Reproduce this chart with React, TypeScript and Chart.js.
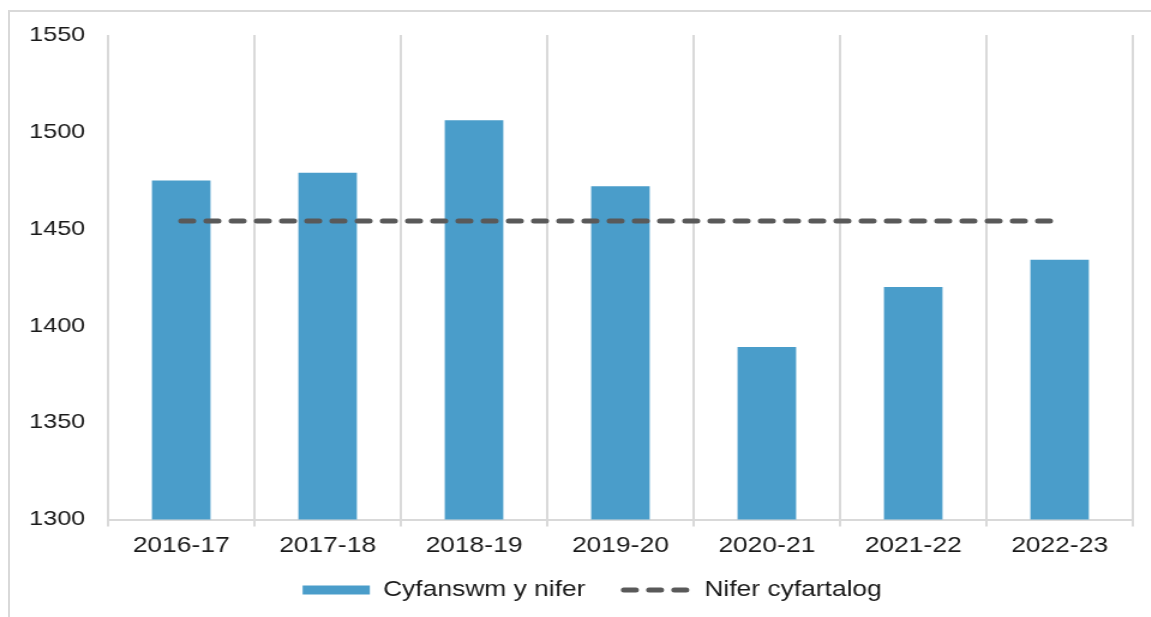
import React, { useEffect, useRef } from "react";
import { Chart, registerables } from "chart.js";

Chart.register(...registerables);

const categories = ["2016-17", "2017-18", "2018-19", "2019-20", "2020-21", "2021-22", "2022-23"];
const totalValues = [1475, 1479, 1506, 1472, 1389, 1420, 1434];
const averageValues = [1454, 1454, 1454, 1454, 1454, 1454, 1454];
const seriesLabels = ["Cyfanswm y nifer", "Nifer cyfartalog"];
const yMin = 1300;
const yMax = 1550;
const yStep = 50;

const BAR_COLOR = "#4A9DCA";
const LINE_COLOR = "#595959";
const GRID_COLOR = "#d9d9d9";
const TEXT_COLOR = "#1a1a1a";
const FONT = "'Liberation Sans', Arial, sans-serif";

const STRETCH = 1.2;
const CANVAS_W = 959;
const CANVAS_H = 617;
const LEGEND_CENTER_X = 493.5;
const LEGEND_TEXT_Y = 590;

const legendPlacer = {
  id: "legendPlacer",
  afterLayout(chart: any) {
    const lg = chart.legend;
    if (!lg) return;
    const w = lg.right - lg.left;
    const h = lg.bottom - lg.top;
    lg.left = LEGEND_CENTER_X - w / 2;
    lg.right = LEGEND_CENTER_X + w / 2;
    const pad = lg.options.labels.padding;
    const fs = lg.options.labels.font.size;
    lg.top = LEGEND_TEXT_Y - pad - fs / 2;
    lg.bottom = lg.top + h;
  },
};

export default function App() {
  const canvasRef = useRef<HTMLCanvasElement | null>(null);

  useEffect(() => {
    const canvas = canvasRef.current;
    if (!canvas) return;
    const chart = new Chart(canvas, {
      type: "bar",
      data: {
        labels: categories,
        datasets: [
          {
            type: "line",
            label: seriesLabels[1],
            data: averageValues,
            borderColor: LINE_COLOR,
            backgroundColor: LINE_COLOR,
            borderWidth: 5,
            borderDash: [10, 11],
            borderCapStyle: "round",
            pointRadius: 0,
            pointHoverRadius: 0,
            fill: false,
            order: 0,
          } as any,
          {
            type: "bar",
            label: seriesLabels[0],
            data: totalValues,
            backgroundColor: BAR_COLOR,
            borderWidth: 0,
            barPercentage: 0.4,
            categoryPercentage: 1,
            order: 1,
          },
        ],
      },
      options: {
        responsive: false,
        animation: false,
        devicePixelRatio: 1,
        layout: { padding: { left: 0, right: 15, top: 35, bottom: -12 } },
        plugins: {
          tooltip: { enabled: false },
          legend: {
            position: "bottom",
            labels: {
              usePointStyle: true,
              pointStyleWidth: 56,
              boxHeight: 9,
              padding: 32,
              color: TEXT_COLOR,
              font: { family: FONT, size: 22 },
              generateLabels: (c: any) => [
                {
                  text: c.data.datasets[1].label,
                  fillStyle: BAR_COLOR,
                  strokeStyle: BAR_COLOR,
                  lineWidth: 0,
                  pointStyle: "rect",
                  hidden: false,
                  datasetIndex: 1,
                  fontColor: TEXT_COLOR,
                },
                {
                  text: c.data.datasets[0].label,
                  fillStyle: LINE_COLOR,
                  strokeStyle: LINE_COLOR,
                  lineWidth: 5,
                  lineDash: [10, 11],
                  lineCap: "round",
                  pointStyle: "line",
                  hidden: false,
                  datasetIndex: 0,
                  fontColor: TEXT_COLOR,
                },
              ],
            },
          },
        },
        scales: {
          x: {
            grid: {
              display: true,
              offset: true,
              color: GRID_COLOR,
              lineWidth: 2,
              drawTicks: true,
              tickLength: 7,
            },
            border: { display: true, color: GRID_COLOR, width: 2 },
            ticks: {
              color: TEXT_COLOR,
              font: { family: FONT, size: 22 },
              padding: 6,
              maxRotation: 0,
            },
          },
          y: {
            min: yMin,
            max: yMax,
            grid: { display: false, drawTicks: false },
            border: { display: false },
            ticks: {
              stepSize: yStep,
              color: TEXT_COLOR,
              font: { family: FONT, size: 21 },
              padding: 19,
              callback: (v: any) => String(v),
            },
            afterFit: (s: any) => {
              s.width = 90;
            },
          },
        },
      },
      plugins: [legendPlacer],
    });
    return () => chart.destroy();
  }, []);

  return (
    <div>
      <div
        style={{
          position: "fixed",
          left: 8,
          top: 10,
          width: 1151 - 8,
          height: 617 - 10,
          borderTop: `2px solid ${GRID_COLOR}`,
          borderLeft: `2px solid ${GRID_COLOR}`,
          boxSizing: "border-box",
        }}
      />
      <div
        style={{
          position: "fixed",
          left: 0,
          top: 0,
          width: CANVAS_W,
          height: CANVAS_H,
          transform: `scaleX(${STRETCH})`,
          transformOrigin: "0 0",
        }}
      >
        <canvas ref={canvasRef} width={CANVAS_W} height={CANVAS_H} style={{ display: "block" }} />
      </div>
    </div>
  );
}
